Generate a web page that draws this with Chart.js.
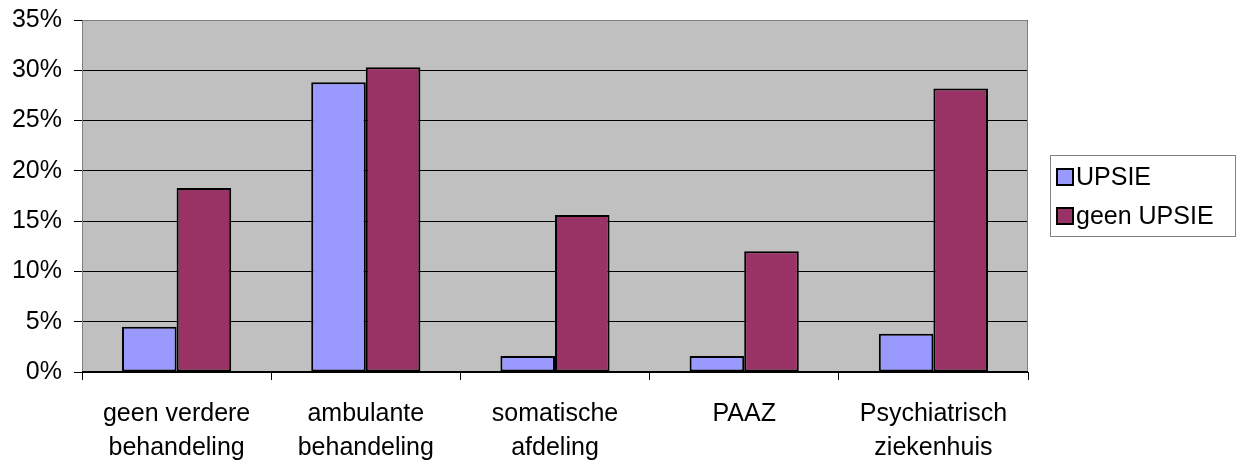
<!DOCTYPE html>
<html>
<head>
<meta charset="utf-8">
<script src="https://cdn.jsdelivr.net/npm/chart.js@4/dist/chart.umd.min.js"></script>
<style>
  html, body { margin: 0; padding: 0; background: #fff; }
  #wrap { position: relative; width: 1238px; height: 461px; }
</style>
</head>
<body>
<div id="wrap"><canvas id="c"></canvas></div>
<script>
// ── data ────────────────────────────────────────────
const CATEGORIES = [
  ['geen verdere', 'behandeling'],
  ['ambulante', 'behandeling'],
  ['somatische', 'afdeling'],
  'PAAZ',
  ['Psychiatrisch', 'ziekenhuis'],
];
const UPSIE      = [4.5, 28.8, 1.6, 1.6, 3.8];
const GEEN_UPSIE = [18.3, 30.3, 15.6, 12.0, 28.2];
const Y_TICKS    = [0, 5, 10, 15, 20, 25, 30, 35];

const FONT = { family: '"Liberation Sans", Arial, sans-serif', size: 25 };

// grey plot background + frame
const plotBg = {
  id: 'plotBg',
  beforeDraw(chart) {
    const { ctx, chartArea: a } = chart;
    ctx.save();
    ctx.fillStyle = '#C0C0C0';
    ctx.fillRect(a.left, a.top, a.right - a.left, a.bottom - a.top);
    ctx.restore();
  },
  afterDatasetsDraw(chart) {
    const { ctx, chartArea: a } = chart;
    ctx.save();
    ctx.strokeStyle = '#808080';
    ctx.lineWidth = 1;
    ctx.beginPath();
    ctx.moveTo(a.left + 0.5, a.bottom);
    ctx.lineTo(a.left + 0.5, a.top + 0.5);
    ctx.lineTo(a.right - 0.5, a.top + 0.5);
    ctx.lineTo(a.right - 0.5, a.bottom);
    ctx.stroke();
    ctx.strokeStyle = '#000';
    ctx.beginPath();
    ctx.moveTo(a.left, a.bottom - 0.5);
    ctx.lineTo(a.right, a.bottom - 0.5);
    ctx.stroke();
    ctx.restore();
  },
};

// boxed legend on the right
const boxLegend = {
  id: 'boxLegend',
  afterDraw(chart) {
    const { ctx } = chart;
    const x = 1050, y = 155, w = 186, h = 82;
    ctx.save();
    ctx.fillStyle = '#fff';
    ctx.fillRect(x, y, w, h);
    ctx.strokeStyle = '#808080';
    ctx.lineWidth = 1;
    ctx.strokeRect(x + 0.5, y + 0.5, w - 1, h - 1);
    ctx.font = `${FONT.size}px ${FONT.family}`;
    ctx.textBaseline = 'middle';
    chart.data.datasets.forEach((ds, i) => {
      const cy = y + 22 + i * 39;
      ctx.fillStyle = ds.backgroundColor;
      ctx.fillRect(x + 7, cy - 8, 16, 16);
      ctx.strokeStyle = '#000';
      ctx.lineWidth = 2;
      ctx.strokeRect(x + 7, cy - 8, 16, 16);
      ctx.fillStyle = '#000';
      ctx.fillText(ds.label, x + 26, cy + 1);
    });
    ctx.restore();
  },
};

new Chart(document.getElementById('c'), {
  type: 'bar',
  data: {
    labels: CATEGORIES,
    datasets: [
      { label: 'UPSIE', data: UPSIE, backgroundColor: '#9999FF',
        borderColor: '#000', borderWidth: 2, borderSkipped: false },
      { label: 'geen UPSIE', data: GEEN_UPSIE, backgroundColor: '#993366',
        borderColor: '#000', borderWidth: 2, borderSkipped: false },
    ],
  },
  options: {
    responsive: true,
    maintainAspectRatio: false,
    animation: false,
    devicePixelRatio: 1,
    layout: { padding: { top: 20, right: 210, left: 0, bottom: 0 } },
    datasets: { bar: { categoryPercentage: 0.577, barPercentage: 1.0 } },
    plugins: {
      legend: { display: false },
      tooltip: { enabled: false },
    },
    scales: {
      x: {
        afterFit: s => { s.height = 89; s.paddingLeft = 0; s.paddingRight = 0; },
        grid: { drawOnChartArea: false, drawTicks: true, tickLength: 8, color: '#000', offset: true },
        border: { display: false },
        ticks: { color: '#000', font: { ...FONT, lineHeight: 1.35 }, padding: 17, maxRotation: 0, autoSkip: false },
      },
      y: {
        min: 0, max: 35,
        afterFit: s => { s.width = 82; s.paddingTop = 0; s.paddingBottom = 0; },
        afterBuildTicks: s => { s.ticks = Y_TICKS.map(v => ({ value: v })); },
        grid: { color: '#000', lineWidth: 1, tickLength: 8 },
        border: { display: false },
        ticks: { color: '#000', font: FONT, padding: 12, callback: v => v + '%' },
      },
    },
  },
  plugins: [plotBg, boxLegend],
});
</script>
</body>
</html>
